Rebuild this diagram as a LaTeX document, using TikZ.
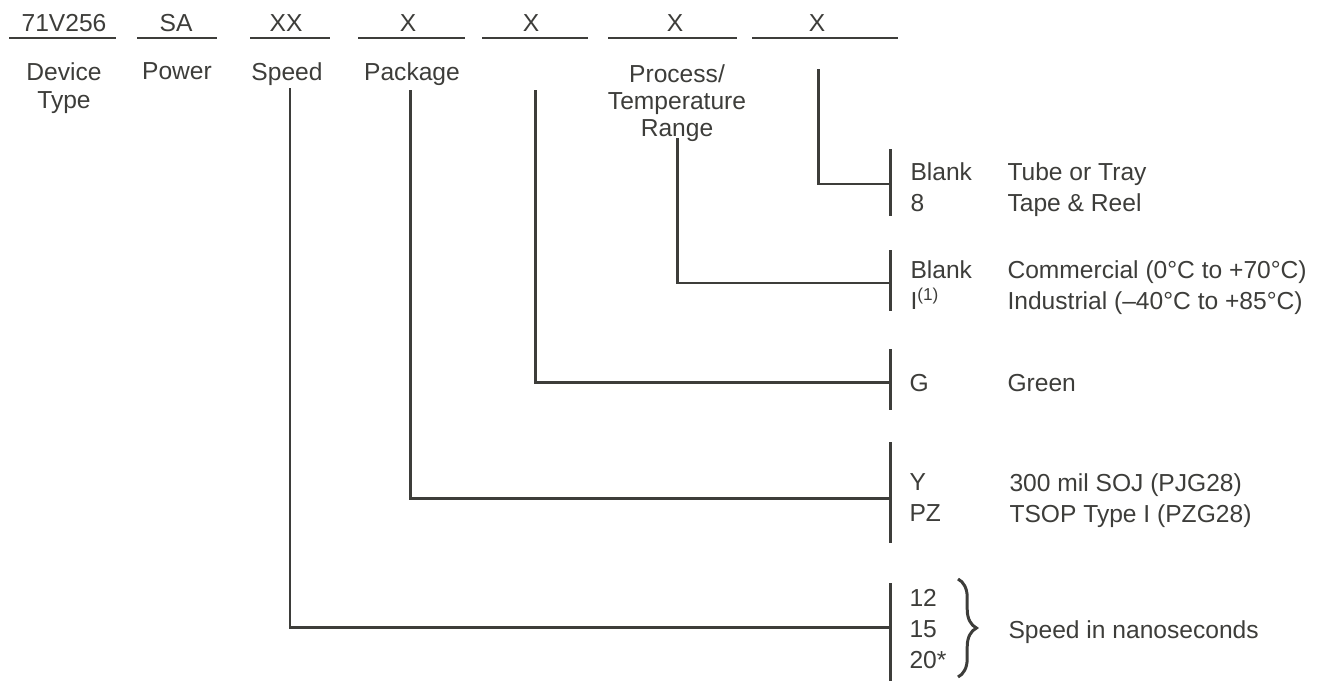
\documentclass[tikz,border=0pt]{standalone}
\usepackage{fontspec}
\setmainfont{Liberation Sans}
\usepackage{tikz}
\usetikzlibrary{decorations.pathreplacing}
\definecolor{ink}{HTML}{3D3D3A}
\tikzset{fieldtext/.style={anchor=base,inner sep=0},
    captext/.style={anchor=north,inner sep=0,align=center},
    codetext/.style={anchor=north west,inner sep=0,align=left,font=\fontsize{14}{17.6}\selectfont},
    curlybrace/.style={decorate,decoration={brace,amplitude=10.5pt}}}

\begin{document}
\begin{tikzpicture}[x=0.02cm,y=-0.02cm,color=ink,line width=1.7pt,font=\fontsize{14}{15.5}\selectfont]

\useasboundingbox (0,0) rectangle (1331,683);

% part number fields

\foreach \from/\to/\mid/\code [count=\i] in {
  9/116/64/71V256,
  137/217/176/SA,
  250/330/286/XX,
  358/465/408/X,
  482/588/531/X,
  608/737/675/X,
  752/898/817/X}
{
    \coordinate (fl\i) at (\from,38);
    \coordinate (fr\i) at (\to,38);
    \draw (fl\i) -- (fr\i);
    \node (field\i) [fieldtext] at (\mid,31) {\code};
}

\node (ldevice) [captext] at (64,61.5) {Device\\Type};
\node (lpower) [captext] at (177,61.5) {Power};
\node (lspeed) [captext] at (287,61.5) {Speed};
\node (lpackage) [captext] at (412,61.5) {Package};
\node (lprocess) [captext] at (677,63) {Process/\\Temperature\\Range};

% option bars

\foreach \name/\top/\bot/\mid in {tape/149/216/184, temp/250/311/283, green/349/410/382, pkg/442/543/498, speed/583/681/627}
{
    \coordinate (up\name) at (890,\top);
    \coordinate (dn\name) at (890,\bot);
    \coordinate (bar\name) at (890,\mid);
    \draw (up\name) -- (dn\name);
}

\node (ctape) [codetext] at (909,161) {Blank\\8};
\node (dtape) [codetext] at (1006,161) {Tube or Tray\\Tape \& Reel};
\node (ctemp) [codetext] at (909,259) {Blank\\I\textsuperscript{(1)}};
\node (dtemp) [codetext] at (1006,259) {Commercial (0°C to +70°C)\\Industrial (–40°C to +85°C)};
\node (cgreen) [codetext] at (908,373) {G};
\node (dgreen) [codetext] at (1006,373) {Green};
\node (cpkg) [codetext] at (908,472) {Y\\PZ};
\node (dpkg) [codetext] at (1008,472) {300 mil SOJ (PJG28)\\TSOP Type I (PZG28)};
\node (cspeed) [codetext] at (908,588) {12\\15\\20*};
\node (dspeed) [codetext] at (1007,619) {Speed in nanoseconds};

\draw [curlybrace] (958,579) -- (958,677);

% connectors

\coordinate (xtape) at (818,69);
\coordinate (xtemp) at (677,138);
\coordinate (xgreen) at (535,90);
\coordinate (xpkg) at (410,90);
\coordinate (xspeed) at (290,88);

\draw (xtape) |- (bartape);
\draw (xtemp) |- (bartemp);
\draw (xgreen) |- (bargreen);
\draw (xpkg) |- (barpkg);
\draw (xspeed) |- (barspeed);

\end{tikzpicture}
\end{document}
